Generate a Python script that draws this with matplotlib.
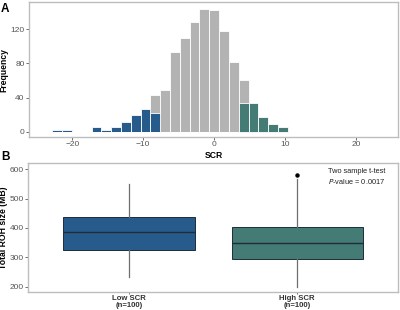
import numpy as np
import matplotlib
matplotlib.use("Agg")
import matplotlib.pyplot as plt

plt.rcParams["font.family"] = ["Liberation Sans", "DejaVu Sans"]

# Panel A: histogram of SCR (bin counts)
bin_width = 1.383
bin_index = np.arange(24) - 16   # bin centred on 0 is index 16
all_counts = [2, 2, 0, 0, 6, 2, 6, 11, 19, 27, 43, 49, 93, 110, 128, 143,
              142, 118, 81, 60, 33, 17, 9, 5]
low_counts = [2, 2, 0, 0, 6, 2, 6, 11, 19, 27, 22, 0, 0, 0, 0, 0,
              0, 0, 0, 0, 0, 0, 0, 0]
high_counts = [0, 0, 0, 0, 0, 0, 0, 0, 0, 0, 0, 0, 0, 0, 0, 0,
               0, 0, 0, 34, 33, 17, 9, 5]

# Panel B: boxplot of total ROH size
groups = ["Low SCR\n(n=100)", "High SCR\n(n=100)"]
q1 = [325, 296]
med = [386, 350]
q3 = [437, 404]
whisk_lo = [234, 200]
whisk_hi = [549, 566]
outliers = [[], [580]]

gray = "#b3b3b3"
blue = "#275b8b"
teal = "#457b75"
frame = "#bdbdbd"

fig = plt.figure(figsize=(4, 3.1), dpi=100)
axA = fig.add_axes([0.0725, 0.558, 0.9225, 0.435])
axB = fig.add_axes([0.07, 0.058, 0.925, 0.416])

centers = bin_index * bin_width
axA.bar(centers, all_counts, width=bin_width, color=gray, edgecolor="white", linewidth=0.6)
axA.bar(centers, low_counts, width=bin_width, color=blue, edgecolor="white", linewidth=0.6)
axA.bar(centers, high_counts, width=bin_width, color=teal, edgecolor="white", linewidth=0.6)
axA.set_xlim(-26.1, 25.9)
axA.set_ylim(-6.2, 151.5)
axA.set_xticks([-20, -10, 0, 10, 20])
axA.set_yticks([0, 40, 80, 120])
axA.set_xlabel("SCR", fontsize=6.2, fontweight="bold", labelpad=2)
axA.set_ylabel("Frequency", fontsize=6.2, fontweight="bold", labelpad=1.5)

stats = []
for i in range(len(groups)):
    stats.append(dict(q1=q1[i], med=med[i], q3=q3[i], whislo=whisk_lo[i],
                      whishi=whisk_hi[i], fliers=outliers[i], label=groups[i]))
bp = axB.bxp(stats, positions=[1, 2], widths=0.78, patch_artist=True, showcaps=False,
             boxprops=dict(edgecolor="#1e2d3b", linewidth=0.7),
             medianprops=dict(color="#1e2d3b", linewidth=1.0),
             whiskerprops=dict(color="#6e6e6e", linewidth=0.9),
             flierprops=dict(marker="o", markersize=2.2, markerfacecolor="black",
                             markeredgecolor="black"))
for patch, c in zip(bp["boxes"], [blue, teal]):
    patch.set_facecolor(c)
axB.set_xlim(0.4, 2.6)
axB.set_ylim(182, 621)
axB.set_yticks([200, 300, 400, 500, 600])
axB.set_ylabel("Total ROH size (MB)", fontsize=6.2, fontweight="bold", labelpad=1)

axB.text(0.889, 0.938, "Two sample t-test", transform=axB.transAxes,
         ha="center", va="center", fontsize=5.3, color="#222222")
axB.text(0.889, 0.855, r"$\it{P}$-value = 0.0017", transform=axB.transAxes,
         ha="center", va="center", fontsize=5.3, color="#222222")

for ax in (axA, axB):
    for s in ax.spines.values():
        s.set_color(frame)
        s.set_linewidth(1.0)
    ax.tick_params(length=2, width=0.6, color="#555555", labelsize=6,
                   labelcolor="#555555", pad=1.2)
axB.tick_params(axis="x", length=1.5, labelcolor="#333333", labelsize=5.6, pad=0.5)
for lab in axB.get_xticklabels():
    lab.set_fontweight("bold")
    lab.set_linespacing(1.0)

fig.text(0.003, 0.99, "A", fontsize=8.5, fontweight="bold", va="top")
fig.text(0.003, 0.512, "B", fontsize=8.5, fontweight="bold", va="top")

fig.savefig("out.png", dpi=100)
